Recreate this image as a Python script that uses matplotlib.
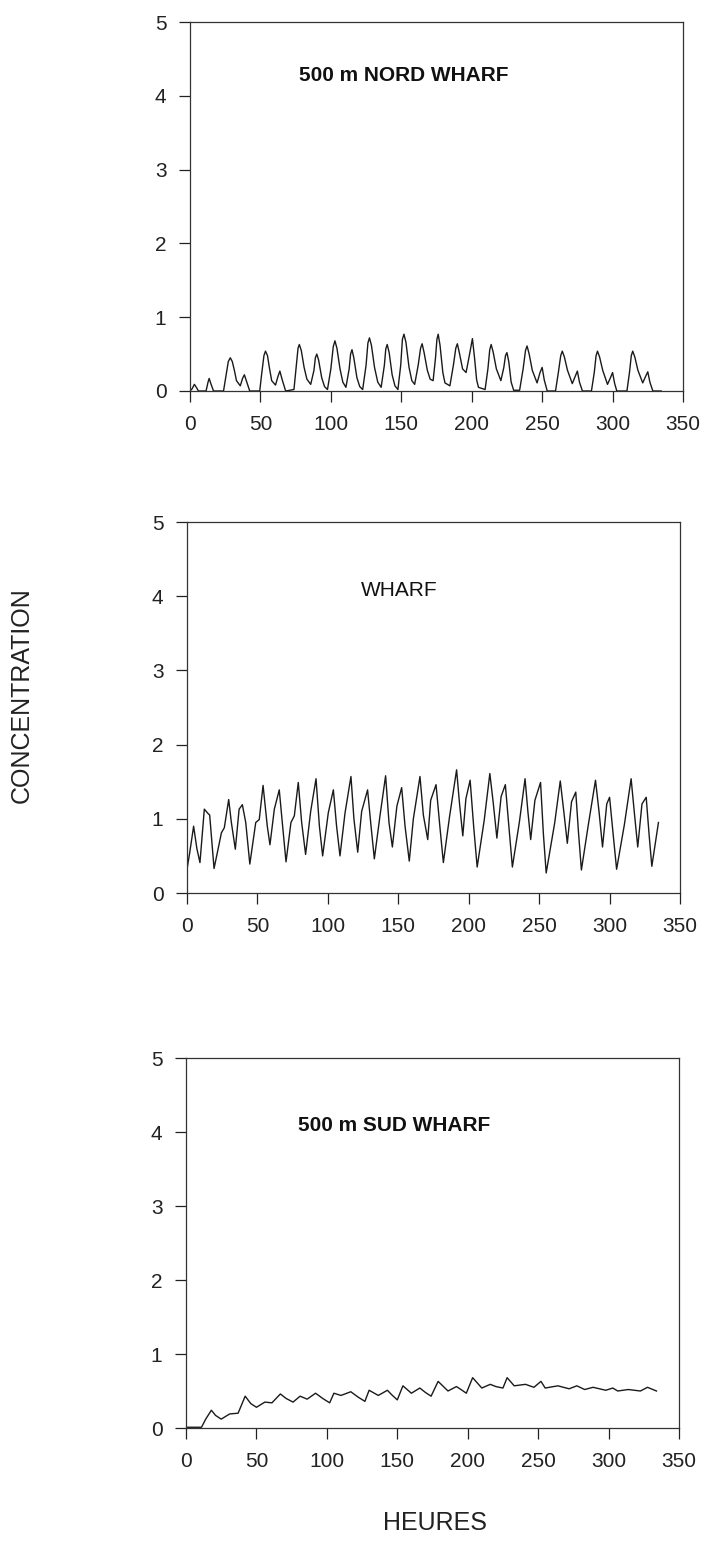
import matplotlib
matplotlib.use("Agg")
import matplotlib.pyplot as plt

plt.rcParams['font.family'] = ['Liberation Sans', 'DejaVu Sans']

# ---------------- data ----------------
nord_hours = [0, 1.5, 3.1, 4.5, 6,
              11.4, 12.8, 13.6, 14.8, 16.7,
              23.8, 25.5, 27.2, 28.6, 30, 31.5, 33, 35.7, 37.3, 38.6, 40, 42.4,
              49.5, 51, 52.5, 53.6, 55, 56.5, 58, 60.7, 62.5, 63.8, 65.5, 67.9,
              73.8, 75.5, 76.7, 77.6, 79, 81, 83, 85.7, 88, 89, 90, 91.3, 93.5, 95.5, 97.6,
              100, 101.7, 102.9, 104.3, 106.5, 108.5, 110.7, 113, 114, 115, 116.3, 118.5, 120.5, 122.6,
              125, 126.3, 127.4, 128.8, 131, 133.3, 135.7, 138, 139, 140, 141.4, 143.5, 145.5, 147.6,
              149.6, 150.8, 151.9, 153.3, 155.5, 157.5, 159.5, 162, 163.7, 164.8, 166.2, 168.5, 170.5, 172.6,
              174.3, 175.3, 176.2, 177.5, 179.5, 181, 184.5, 187, 188.7, 189.8, 191.2, 193.5, 196, 198.5,
              200.5, 202, 203.5, 204.8, 209.5,
              211.5, 212.8, 213.8, 215.2, 217.5, 220.7, 222.8, 224, 225, 226.3, 228, 229.8, 234,
              236.5, 238.2, 239.3, 240.8, 243, 246.4, 248.5, 250, 251.5, 253.6,
              259.5, 261.5, 263.2, 264.3, 265.8, 268, 271.4, 273.5, 275, 276.5, 278.6,
              285, 287, 288.3, 289.3, 290.8, 293, 296.4, 298.5, 300, 301.5, 303,
              310.2, 312, 313.3, 314.3, 315.8, 318, 321.4, 323.5, 325, 326.5, 328.6, 334.5]
nord_conc = [0, 0.03, 0.09, 0.05, 0,
             0, 0.12, 0.17, 0.10, 0,
             0, 0.20, 0.40, 0.45, 0.40, 0.28, 0.14, 0.07, 0.17, 0.22, 0.14, 0,
             0, 0.25, 0.48, 0.54, 0.48, 0.30, 0.14, 0.08, 0.20, 0.27, 0.15, 0,
             0.02, 0.35, 0.58, 0.63, 0.55, 0.32, 0.16, 0.09, 0.28, 0.45, 0.50, 0.42, 0.18, 0.06, 0.02,
             0.30, 0.60, 0.68, 0.58, 0.30, 0.12, 0.05, 0.30, 0.50, 0.56, 0.45, 0.18, 0.06, 0.02,
             0.35, 0.65, 0.72, 0.62, 0.32, 0.12, 0.05, 0.35, 0.57, 0.63, 0.52, 0.22, 0.07, 0.02,
             0.35, 0.70, 0.77, 0.66, 0.32, 0.14, 0.09, 0.35, 0.58, 0.64, 0.52, 0.28, 0.16, 0.14,
             0.45, 0.70, 0.77, 0.62, 0.25, 0.11, 0.07, 0.35, 0.58, 0.64, 0.52, 0.30, 0.25, 0.50,
             0.71, 0.45, 0.15, 0.05, 0.02,
             0.30, 0.56, 0.63, 0.53, 0.30, 0.14, 0.32, 0.48, 0.52, 0.40, 0.12, 0.01, 0.01,
             0.30, 0.55, 0.61, 0.50, 0.28, 0.11, 0.25, 0.32, 0.15, 0,
             0, 0.25, 0.48, 0.54, 0.46, 0.28, 0.10, 0.20, 0.27, 0.12, 0,
             0, 0.25, 0.48, 0.54, 0.46, 0.28, 0.09, 0.18, 0.25, 0.10, 0,
             0, 0.25, 0.48, 0.54, 0.46, 0.28, 0.11, 0.20, 0.26, 0.12, 0, 0]

wharf_hours = [0, 1.9, 4.7, 7, 9.2, 12.3, 15, 16.1, 19.2, 22.7, 24.4, 26.5, 29.6, 31.5, 34.3, 37, 39.3,
               41.7, 44.6, 48.8, 51.3, 54, 57, 58.9, 62, 65.5, 67.9, 70.3, 73.8, 76.2, 79, 81.4, 84.2,
               87.8, 91.6, 94, 96.3, 100.3, 103.9, 106.2, 108.6, 112.2, 116.4, 118.5, 121.2, 124,
               128.2, 130.4, 133, 137, 141, 143.4, 145.8, 149, 152.4, 154.8, 157.8, 160.7, 165.4,
               167.8, 170.9, 173, 176.8, 179.5, 182, 186.4, 191.4, 193.5, 195.8, 198, 201, 203.5, 206,
               211, 215, 217.5, 220, 223, 226, 228.5, 231, 236, 240, 242, 244, 247, 251, 253, 255, 261,
               265, 267.5, 270, 273, 276, 278, 280, 285, 290, 292.5, 295, 298, 300, 302.5, 305, 310.5,
               315.3, 317.5, 320, 323, 326, 328, 330, 334.7]
wharf_conc = [0.32, 0.54, 0.90, 0.60, 0.41, 1.13, 1.07, 1.05, 0.33, 0.65, 0.81, 0.88, 1.26, 0.95, 0.59,
              1.13, 1.19, 0.95, 0.39, 0.95, 0.99, 1.45, 0.90, 0.65, 1.13, 1.39, 0.90, 0.42, 0.95, 1.04,
              1.49, 0.95, 0.52, 1.10, 1.54, 0.90, 0.50, 1.08, 1.39, 0.90, 0.50, 1.08, 1.57, 1.00, 0.55,
              1.10, 1.39, 0.95, 0.46, 1.04, 1.58, 0.95, 0.62, 1.17, 1.42, 0.90, 0.43, 1.00, 1.57, 1.05,
              0.72, 1.25, 1.46, 0.90, 0.41, 1.03, 1.66, 1.20, 0.77, 1.27, 1.52, 0.90, 0.35, 0.98, 1.61,
              1.20, 0.74, 1.30, 1.46, 0.90, 0.35, 0.96, 1.54, 1.10, 0.72, 1.25, 1.49, 0.80, 0.27, 0.94,
              1.51, 1.10, 0.67, 1.23, 1.36, 0.80, 0.31, 0.93, 1.52, 1.10, 0.62, 1.20, 1.29, 0.80, 0.32,
              0.92, 1.54, 1.10, 0.62, 1.20, 1.29, 0.80, 0.36, 0.95]

sud_hours = [0, 11, 14, 18, 21, 25, 31, 37, 42, 46, 50, 56, 61, 67, 71, 76, 81, 86, 92, 97, 102, 105,
             110, 117, 122, 127, 130, 136.5, 143, 146, 150, 154, 160, 166, 170, 174, 179, 186, 192,
             196, 199, 203.5, 210, 216, 220, 225, 228, 233, 241, 247, 252, 255, 264, 272, 277.5, 283,
             289, 298, 303, 306.5, 314, 322.6, 327.6, 334]
sud_conc = [0.01, 0.01, 0.12, 0.24, 0.17, 0.12, 0.19, 0.20, 0.43, 0.33, 0.28, 0.35, 0.34, 0.46, 0.40,
            0.35, 0.43, 0.39, 0.47, 0.40, 0.34, 0.47, 0.44, 0.49, 0.42, 0.36, 0.51, 0.44, 0.51, 0.45,
            0.38, 0.57, 0.47, 0.54, 0.48, 0.43, 0.63, 0.50, 0.56, 0.51, 0.47, 0.68, 0.54, 0.59, 0.56,
            0.54, 0.68, 0.57, 0.59, 0.55, 0.63, 0.54, 0.57, 0.53, 0.57, 0.52, 0.55, 0.51, 0.54, 0.50,
            0.52, 0.50, 0.55, 0.50]

panel_titles = ["500 m NORD WHARF", "WHARF", "500 m SUD WHARF"]
title_weights = ["bold", "normal", "bold"]
x_ticks = [0, 50, 100, 150, 200, 250, 300, 350]
y_ticks = [0, 1, 2, 3, 4, 5]
x_label = "HEURES"
y_label = "CONCENTRATION"

# ---------------- layout ----------------
W, H = 706, 1562
fig = plt.figure(figsize=(W / 100, H / 100), dpi=100)
fig.patch.set_facecolor("white")

# pixel boxes: (left, right, top, bottom)
boxes = [(190, 683, 22, 391), (187, 680, 522, 893), (186, 679, 1058, 1428)]
title_pos = [(152, 4.28), (151, 4.08), (148, 4.09)]
series = [(nord_hours, nord_conc), (wharf_hours, wharf_conc), (sud_hours, sud_conc)]

for (l, r, t, b), (xs, ys), title, tw, tp in zip(boxes, series, panel_titles, title_weights, title_pos):
    ax = fig.add_axes([l / W, 1 - b / H, (r - l) / W, (b - t) / H])
    ax.plot(xs, ys, color="#1a1a1a", lw=1.0)
    ax.set_xlim(0, 350)
    ax.set_ylim(0, 5)
    ax.set_xticks(x_ticks)
    ax.set_yticks(y_ticks)
    ax.tick_params(direction="out", length=8, width=0.9, labelsize=15, pad=9, colors="#222222")
    for s in ax.spines.values():
        s.set_linewidth(0.9)
        s.set_color("#333333")
    ax.text(tp[0], tp[1], title, ha="center", va="center", fontsize=15, fontweight=tw, color="#111111")

fig.text(22 / W, 1 - 695 / H, y_label, rotation=90, ha="center", va="center", fontsize=18, color="#222222")
fig.text(435 / W, 1 - 1523 / H, x_label, ha="center", va="center", fontsize=18, color="#222222")

fig.savefig("out.png", dpi=100)
